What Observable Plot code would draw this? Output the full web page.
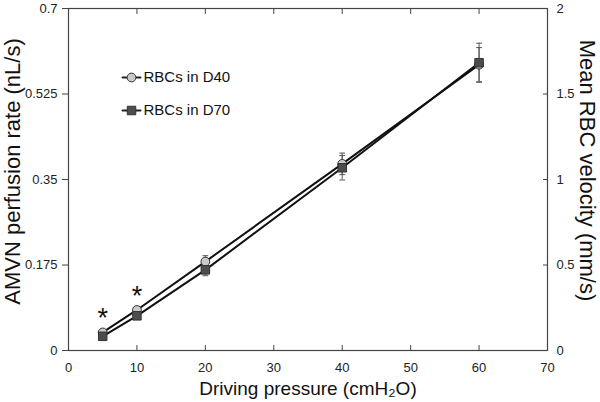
<!DOCTYPE html>
<html><head><meta charset="utf-8">
<script src="https://cdn.jsdelivr.net/npm/d3@7"></script>
<script src="https://cdn.jsdelivr.net/npm/@observablehq/plot@0.6"></script>
<style>body{margin:0;background:#fff}#chart svg{display:block}</style>
</head><body><div id="chart"></div>
<script>
// ---- data ----
const pressure = [5, 10, 20, 40, 60];
const seriesNames = ["RBCs in D40", "RBCs in D70"];
const d40 = [0.037, 0.083, 0.182, 0.382, 0.585];
const d40Err = [0.004, 0.005, 0.012, 0.022, 0.035];
const d70 = [0.029, 0.071, 0.165, 0.374, 0.589];
const d70Err = [0.004, 0.005, 0.012, 0.025, 0.04];
const starPressures = [5, 10];          // significant differences
const xTicks = [0, 10, 20, 30, 40, 50, 60, 70];
const yTicks = [0, 0.175, 0.35, 0.525, 0.7];
const yTickLabels = ["0", "0.175", "0.35", "0.525", "0.7"];
const y2TickLabels = ["0", "0.5", "1", "1.5", "2"];
const xTitle = "Driving pressure (cmH\u2082O)";
const yTitle = "AMVN perfusion rate (nL/s)";
const y2Title = "Mean RBC velocity (mm/s)";

const series = [
  {name: seriesNames[0], values: d40, errs: d40Err, symbol: "circle", fill: "#c9c9c9", r: 4.4},
  {name: seriesNames[1], values: d70, errs: d70Err, symbol: "square", fill: "#4d4d4d", r: 4.8}
];
const rows = series.flatMap((s, si) => pressure.map((p, i) => ({series: s.name, si, x: p, y: s.values[i], e: s.errs[i]})));
const stars = starPressures.map(p => ({x: p, y: Math.max(d40[pressure.indexOf(p)], d70[pressure.indexOf(p)])}));

const lineShape = {draw(ctx, l) { ctx.moveTo(0, 0); ctx.lineTo(0, -l); }};
const font = "'Liberation Sans', Arial, Helvetica, sans-serif";
const axisColor = "#444";

const marks = [
  Plot.frame({stroke: axisColor, strokeWidth: 1.2}),
  Plot.axisY({anchor: "left", ticks: yTicks, tickFormat: (d, i) => yTickLabels[i], tickSize: 6, tickPadding: 5, fontSize: 13, stroke: axisColor, fill: "#222", label: null}),
  Plot.axisY({anchor: "right", ticks: yTicks, tickFormat: (d, i) => y2TickLabels[i], tickSize: -5, tickPadding: 14, fontSize: 13, stroke: axisColor, fill: "#222", label: null}),
  Plot.axisX({anchor: "bottom", ticks: xTicks, tickSize: -5, tickPadding: 17, fontSize: 13, stroke: axisColor, fill: "#222", label: null}),
  Plot.axisX({anchor: "top", ticks: xTicks, tickSize: -5, tickFormat: () => "", stroke: axisColor, label: null}),
  // axis titles
  Plot.text([xTitle], {text: d => d, frameAnchor: "bottom", textAnchor: "middle", lineAnchor: "middle", dy: 38, fontSize: 19, fill: "#111"}),
  Plot.text([yTitle], {ariaLabel: "ytitle", text: d => d, frameAnchor: "left", textAnchor: "middle", lineAnchor: "middle", rotate: -90, dx: -56, dy: -8, fontSize: 22, fill: "#111"}),
  Plot.text([y2Title], {ariaLabel: "ytitle", text: d => d, frameAnchor: "right", textAnchor: "middle", lineAnchor: "middle", rotate: 90, dx: 40, dy: -9, fontSize: 22, fill: "#111"}),
];

series.forEach((s, si) => {
  const data = rows.filter(r => r.si === si);
  marks.push(
    Plot.ruleX(data, {x: "x", y1: d => d.y - d.e, y2: d => d.y + d.e, stroke: "#555", strokeWidth: 1}),
    Plot.vector(data, {x: "x", y: d => d.y + d.e, rotate: 90, length: 5, anchor: "middle", shape: lineShape, stroke: "#555", strokeWidth: 1}),
    Plot.vector(data, {x: "x", y: d => d.y - d.e, rotate: 90, length: 5, anchor: "middle", shape: lineShape, stroke: "#555", strokeWidth: 1})
  );
});
series.forEach((s, si) => {
  const data = rows.filter(r => r.si === si);
  marks.push(
    Plot.line(data, {x: "x", y: "y", stroke: "#111", strokeWidth: 2}),
    Plot.dot(data, {x: "x", y: "y", symbol: () => s.symbol, r: s.r, fill: s.fill, stroke: "#333", strokeWidth: 1})
  );
  // legend
  const ly = 69 + 33 * si;
  marks.push(
    Plot.vector([s], {frameAnchor: "top-left", dx: 63, dy: ly, rotate: 90, length: 18, anchor: "middle", shape: lineShape, stroke: "#222", strokeWidth: 2}),
    Plot.dot([s], {frameAnchor: "top-left", dx: 63, dy: ly, symbol: () => s.symbol, r: s.r, fill: s.fill, stroke: "#333", strokeWidth: 1}),
    Plot.text([s], {frameAnchor: "top-left", dx: 75, dy: ly, text: "name", textAnchor: "start", lineAnchor: "middle", fontSize: 15, fill: "#111"})
  );
});
marks.push(Plot.text(stars, {x: "x", y: "y", text: () => "*", dy: -14, fontSize: 27, fill: "#111"}));

const chart = Plot.plot({
  width: 600, height: 402,
  marginLeft: 68, marginRight: 53, marginTop: 8, marginBottom: 52,
  style: {fontFamily: font, background: "#fff", overflow: "visible"},
  x: {domain: [0, 70], axis: null},
  y: {domain: [0, 0.7], axis: null},
  symbol: {type: "identity"},
  marks
});
chart.querySelectorAll('g[aria-label="ytitle"] text').forEach(t => t.style.letterSpacing = "2px");
document.getElementById("chart").append(chart);
</script>
</body></html>
